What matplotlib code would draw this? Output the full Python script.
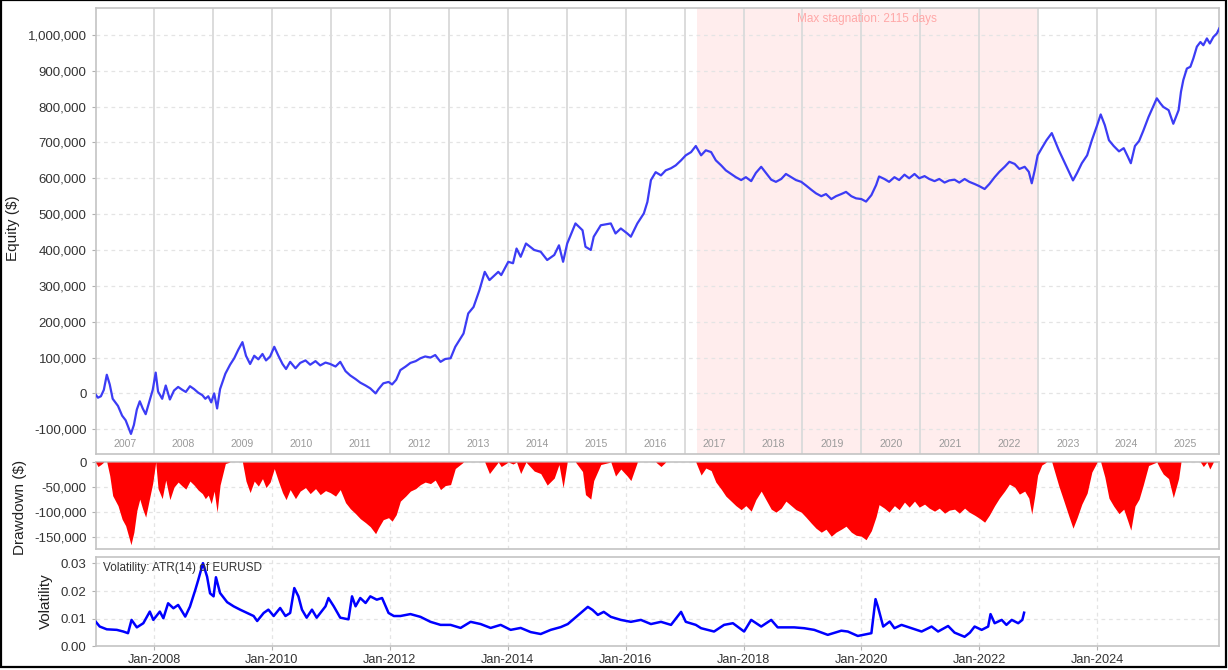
import numpy as np
import pandas as pd
import matplotlib
matplotlib.use("Agg")
import matplotlib.pyplot as plt
import matplotlib.dates as mdates
import matplotlib.transforms as mtransforms
from matplotlib.ticker import FuncFormatter, FixedLocator
from matplotlib.patches import Rectangle

plt.rcParams['font.family'] = ['Liberation Sans', 'DejaVu Sans']

# ---------------- data (decimal years) ----------------
equity_t = [2007.01, 2007.05, 2007.10, 2007.15, 2007.20, 2007.25, 2007.30, 2007.39, 2007.46, 2007.52,
            2007.58, 2007.61, 2007.66, 2007.71, 2007.76, 2007.81, 2007.86, 2007.93, 2007.98, 2008.03,
            2008.07, 2008.14, 2008.20, 2008.27, 2008.34, 2008.41, 2008.48, 2008.54, 2008.61, 2008.68,
            2008.75, 2008.82, 2008.87, 2008.92, 2008.97, 2009.02, 2009.07, 2009.12, 2009.21, 2009.29,
            2009.36, 2009.43, 2009.50, 2009.56, 2009.63, 2009.70, 2009.77, 2009.84, 2009.90, 2009.97,
            2010.04, 2010.11, 2010.18, 2010.24, 2010.31, 2010.40, 2010.48, 2010.57, 2010.65, 2010.74,
            2010.82, 2010.91, 2010.99, 2011.08, 2011.16, 2011.25, 2011.33, 2011.42, 2011.50, 2011.59,
            2011.67, 2011.76, 2011.81, 2011.89, 2011.98, 2012.04, 2012.11, 2012.18, 2012.27, 2012.35,
            2012.44, 2012.52, 2012.60, 2012.69, 2012.77, 2012.86, 2012.94, 2013.03, 2013.11, 2013.25,
            2013.33, 2013.42, 2013.52, 2013.61, 2013.69, 2013.84, 2013.89, 2014.01, 2014.09, 2014.15,
            2014.22, 2014.31, 2014.45, 2014.56, 2014.67, 2014.79, 2014.87, 2014.94, 2015.01, 2015.15,
            2015.27, 2015.32, 2015.41, 2015.46, 2015.58, 2015.75, 2015.83, 2015.92, 2016.03, 2016.09,
            2016.20, 2016.31, 2016.37, 2016.43, 2016.51, 2016.60, 2016.68, 2016.77, 2016.85, 2016.94,
            2017.02, 2017.11, 2017.19, 2017.28, 2017.36, 2017.45, 2017.53, 2017.62, 2017.70, 2017.79,
            2017.87, 2017.96, 2018.04, 2018.13, 2018.21, 2018.30, 2018.38, 2018.47, 2018.55, 2018.64,
            2018.72, 2018.81, 2018.89, 2018.98, 2019.06, 2019.15, 2019.23, 2019.32, 2019.40, 2019.49,
            2019.57, 2019.66, 2019.74, 2019.83, 2019.91, 2020.00, 2020.08, 2020.17, 2020.25, 2020.30,
            2020.39, 2020.47, 2020.56, 2020.64, 2020.73, 2020.81, 2020.90, 2020.98, 2021.07, 2021.15,
            2021.24, 2021.32, 2021.41, 2021.49, 2021.58, 2021.66, 2021.75, 2021.83, 2021.92, 2022.00,
            2022.09, 2022.17, 2022.26, 2022.34, 2022.43, 2022.51, 2022.60, 2022.68, 2022.77, 2022.84,
            2022.89, 2022.94, 2022.99, 2023.06, 2023.14, 2023.23, 2023.28, 2023.35, 2023.43, 2023.52,
            2023.59, 2023.66, 2023.74, 2023.83, 2023.91, 2024.00, 2024.06, 2024.13, 2024.20, 2024.28,
            2024.37, 2024.45, 2024.52, 2024.57, 2024.64, 2024.71, 2024.78, 2024.87, 2025.01, 2025.07,
            2025.12, 2025.21, 2025.29, 2025.38, 2025.42, 2025.46, 2025.52, 2025.58, 2025.63, 2025.69,
            2025.75, 2025.80, 2025.86, 2025.91, 2025.97, 2026.03, 2026.07]
equity_k = [-3, -12, -8, 10, 52, 25, -15, -35, -62, -75,
            -100, -113, -88, -45, -22, -42, -58, -18, 10, 58,
            5, -15, 22, -17, 8, 18, 10, 4, 20, 12,
            2, -5, -15, -8, -25, 0, -42, 12, 55, 80,
            98, 122, 143, 105, 82, 105, 95, 110, 92, 103,
            130, 105, 82, 68, 88, 70, 85, 92, 80, 90,
            78, 86, 82, 75, 88, 62, 50, 40, 30, 22,
            14, 0, 12, 28, 32, 25, 38, 65, 75, 85,
            90, 98, 103, 100, 107, 88, 96, 98, 130, 167,
            223, 241, 288, 339, 316, 339, 330, 367, 363, 404,
            381, 418, 400, 395, 372, 386, 413, 367, 418, 474,
            455, 409, 400, 437, 469, 474, 446, 460, 446, 437,
            474, 502, 534, 595, 617, 608, 622, 628, 636, 650,
            664, 673, 690, 664, 678, 673, 650, 636, 622, 612,
            603, 595, 603, 592, 615, 632, 615, 596, 590, 598,
            612, 603, 595, 590, 580, 568, 558, 550, 556, 542,
            550, 556, 562, 550, 544, 542, 535, 553, 581, 605,
            598, 590, 603, 595, 610, 600, 612, 600, 606, 598,
            592, 598, 588, 594, 596, 588, 598, 590, 584, 578,
            570, 584, 603, 618, 632, 646, 640, 626, 632, 618,
            586, 622, 664, 684, 706, 726, 706, 678, 650, 618,
            594, 615, 642, 664, 706, 748, 778, 748, 706, 690,
            675, 684, 660, 642, 690, 704, 732, 771, 823, 809,
            799, 790, 752, 790, 841, 874, 906, 911, 934, 967,
            980, 971, 990, 976, 994, 1004, 1018]

vol_t = [2007.01, 2007.08, 2007.20, 2007.37, 2007.48, 2007.56, 2007.62, 2007.71, 2007.82, 2007.93,
         2007.99, 2008.10, 2008.16, 2008.24, 2008.33, 2008.41, 2008.53, 2008.61, 2008.70, 2008.75,
         2008.83, 2008.90, 2008.95, 2009.01, 2009.05, 2009.12, 2009.24, 2009.35, 2009.46, 2009.58,
         2009.69, 2009.75, 2009.86, 2009.94, 2010.03, 2010.14, 2010.23, 2010.31, 2010.38, 2010.45,
         2010.51, 2010.59, 2010.68, 2010.76, 2010.91, 2010.96, 2011.05, 2011.16, 2011.30, 2011.36,
         2011.42, 2011.50, 2011.59, 2011.67, 2011.78, 2011.87, 2011.98, 2012.07, 2012.18, 2012.35,
         2012.52, 2012.69, 2012.86, 2013.03, 2013.20, 2013.37, 2013.54, 2013.71, 2013.88, 2014.05,
         2014.22, 2014.39, 2014.56, 2014.73, 2014.90, 2015.02, 2015.36, 2015.44, 2015.53, 2015.63,
         2015.75, 2015.92, 2016.09, 2016.26, 2016.43, 2016.60, 2016.77, 2016.94, 2017.02, 2017.19,
         2017.28, 2017.50, 2017.67, 2017.82, 2018.01, 2018.13, 2018.30, 2018.47, 2018.58, 2018.86,
         2019.03, 2019.20, 2019.43, 2019.66, 2019.77, 2019.94, 2020.17, 2020.24, 2020.28, 2020.37,
         2020.48, 2020.56, 2020.68, 2020.85, 2021.02, 2021.19, 2021.30, 2021.47, 2021.58, 2021.75,
         2021.84, 2021.92, 2022.04, 2022.15, 2022.19, 2022.26, 2022.38, 2022.46, 2022.55, 2022.66,
         2022.73, 2022.76]
vol_v = [0.0090, 0.0072, 0.0062, 0.0060, 0.0054, 0.0048, 0.0096, 0.0069, 0.0084, 0.0126,
         0.0096, 0.0126, 0.0102, 0.0156, 0.0138, 0.0150, 0.0108, 0.0144, 0.0204, 0.0240,
         0.0301, 0.0252, 0.0192, 0.0181, 0.0250, 0.0193, 0.0160, 0.0145, 0.0133, 0.0121,
         0.0110, 0.0092, 0.0121, 0.0133, 0.0110, 0.0139, 0.0110, 0.0121, 0.0211, 0.0181,
         0.0133, 0.0104, 0.0133, 0.0104, 0.0145, 0.0175, 0.0145, 0.0104, 0.0098, 0.0181,
         0.0145, 0.0175, 0.0157, 0.0181, 0.0169, 0.0175, 0.0121, 0.0110, 0.0110, 0.0117,
         0.0107, 0.0089, 0.0078, 0.0078, 0.0067, 0.0089, 0.0081, 0.0067, 0.0078, 0.0060,
         0.0067, 0.0052, 0.0045, 0.0060, 0.0070, 0.0081, 0.0143, 0.0132, 0.0114, 0.0125,
         0.0107, 0.0096, 0.0089, 0.0096, 0.0081, 0.0089, 0.0078, 0.0125, 0.0089, 0.0078,
         0.0066, 0.0054, 0.0078, 0.0084, 0.0054, 0.0096, 0.0072, 0.0096, 0.0069, 0.0069,
         0.0066, 0.0060, 0.0042, 0.0057, 0.0054, 0.0038, 0.0048, 0.0171, 0.0144, 0.0072,
         0.0090, 0.0066, 0.0078, 0.0066, 0.0054, 0.0072, 0.0054, 0.0074, 0.0050, 0.0035,
         0.0050, 0.0072, 0.0060, 0.0072, 0.0117, 0.0084, 0.0096, 0.0078, 0.0096, 0.0084,
         0.0096, 0.0122]

year_labels = [str(y) for y in range(2007, 2026)]
xtick_years = [2008, 2010, 2012, 2014, 2016, 2018, 2020, 2022, 2024]
equity_yticks = [-100000, 0, 100000, 200000, 300000, 400000, 500000, 600000, 700000, 800000, 900000, 1000000]
dd_yticks = [-150000, -100000, -50000, 0]
vol_yticks = [0.00, 0.01, 0.02, 0.03]
stagnation_start = "2017-03-17"
stagnation_days = 2115
stagnation_text = "Max stagnation: 2115 days"
vol_title = "Volatility: ATR(14) of EURUSD"


def dec_to_dt(t):
    y = int(np.floor(t))
    frac = t - y
    a = pd.Timestamp(year=y, month=1, day=1)
    b = pd.Timestamp(year=y + 1, month=1, day=1)
    return a + (b - a) * frac


eq_dates = [dec_to_dt(t) for t in equity_t]
eq_vals = np.array(equity_k, dtype=float) * 1000.0
dd_vals = eq_vals - np.maximum.accumulate(eq_vals)
vol_dates = [dec_to_dt(t) for t in vol_t]

x_left = dec_to_dt(2007.011)
x_right = dec_to_dt(2026.06)

fig = plt.figure(figsize=(12.28, 6.70), dpi=100)
L, W = 0.0779, 0.9145
ax1 = fig.add_axes([L, 0.3224, W, 0.6652])
ax2 = fig.add_axes([L, 0.1806, W, 0.1298])
ax3 = fig.add_axes([L, 0.0351, W, 0.1331])

spine_c = '#c4c4c4'
lab_c = '#333333'
grid_c = '#e4e4e4'
for ax in (ax1, ax2, ax3):
    for s in ax.spines.values():
        s.set_color(spine_c)
        s.set_linewidth(1.2)
    ax.set_axisbelow(True)
    ax.tick_params(axis='both', colors='#b0b0b0', labelcolor=lab_c, labelsize=9.5,
                   length=3, width=0.8, pad=3.5)
    ax.set_xlim(x_left, x_right)

# ---- equity panel ----
ss = pd.Timestamp(stagnation_start)
se = ss + pd.Timedelta(days=stagnation_days)
ax1.axvspan(ss, se, color='#ffeded', zorder=0, lw=0)
for y in range(2008, 2026):
    ax1.axvline(pd.Timestamp(year=y, month=1, day=1), color='#dcdcdc', lw=1.4, zorder=1)
ax1.set_yticks(equity_yticks)
ax1.yaxis.set_major_formatter(FuncFormatter(lambda v, p: f"{int(round(v)):,}"))
ax1.yaxis.grid(True, ls=(0, (3, 3)), color=grid_c, lw=0.9, zorder=1)
ax1.set_ylim(-169000, 1074000)
ax1.tick_params(axis='x', bottom=False, labelbottom=False)
ax1.plot(eq_dates, eq_vals, color='#3c3cf5', lw=1.6, zorder=3)
trans = mtransforms.blended_transform_factory(ax1.transData, ax1.transAxes)
for lab in year_labels:
    y = int(lab)
    a = max(pd.Timestamp(year=y, month=1, day=1), x_left)
    b = min(pd.Timestamp(year=y + 1, month=1, day=1), x_right)
    mid = a + (b - a) / 2
    ax1.text(mid, 0.0225, lab, transform=trans, ha='center', va='center',
             fontsize=7.6, color='#9a9a9a', zorder=4)
mid_s = ss + (se - ss) / 2
ax1.text(mid_s, 0.9767, stagnation_text, transform=trans, ha='center', va='center',
         fontsize=8.5, color='#ffa8a8', zorder=4)

# ---- drawdown panel ----
ax2.fill_between(eq_dates, dd_vals, 0, color='#ff0000', lw=0, zorder=3)
ax2.set_ylim(-173500, 0)
ax2.set_yticks(dd_yticks)
ax2.yaxis.set_major_formatter(FuncFormatter(lambda v, p: f"{int(round(v)):,}"))
xt = [pd.Timestamp(year=y, month=1, day=1) for y in xtick_years]
ax2.xaxis.set_major_locator(FixedLocator(mdates.date2num(xt)))
ax2.tick_params(axis='x', labelbottom=False, length=0)
ax2.grid(True, ls=(0, (3, 3)), color=grid_c, lw=0.9)

# ---- volatility panel ----
ax3.plot(vol_dates, vol_v, color='#0000ff', lw=1.8, zorder=3)
ax3.set_ylim(0, 0.0322)
ax3.set_yticks(vol_yticks)
ax3.yaxis.set_major_formatter(FuncFormatter(lambda v, p: f"{v:.2f}"))
ax3.xaxis.set_major_locator(FixedLocator(mdates.date2num(xt)))
ax3.xaxis.set_major_formatter(mdates.DateFormatter('%b-%Y'))
ax3.tick_params(axis='x', labelsize=9.2, pad=2.5)
ax3.grid(True, ls=(0, (3, 3)), color=grid_c, lw=0.9)
ax3.text(0.0062, 0.885, vol_title, transform=ax3.transAxes, ha='left', va='center',
         fontsize=8.5, color='#333333', zorder=4)

# ---- axis titles ----
fig.text(13 / 1228, 1 - 228 / 670, 'Equity ($)', rotation=90, ha='center', va='center',
         fontsize=11, color='#222222')
fig.text(20 / 1228, 1 - 507 / 670, 'Drawdown ($)', rotation=90, ha='center', va='center',
         fontsize=11, color='#222222')
fig.text(46 / 1228, 1 - 601 / 670, 'Volatility', rotation=90, ha='center', va='center',
         fontsize=11, color='#222222')

fig.patches.append(Rectangle((0.0006, 0.0045), 0.9975, 0.9950, transform=fig.transFigure,
                             fill=False, edgecolor='black', lw=1.6))

fig.savefig('out.png', dpi=100)
